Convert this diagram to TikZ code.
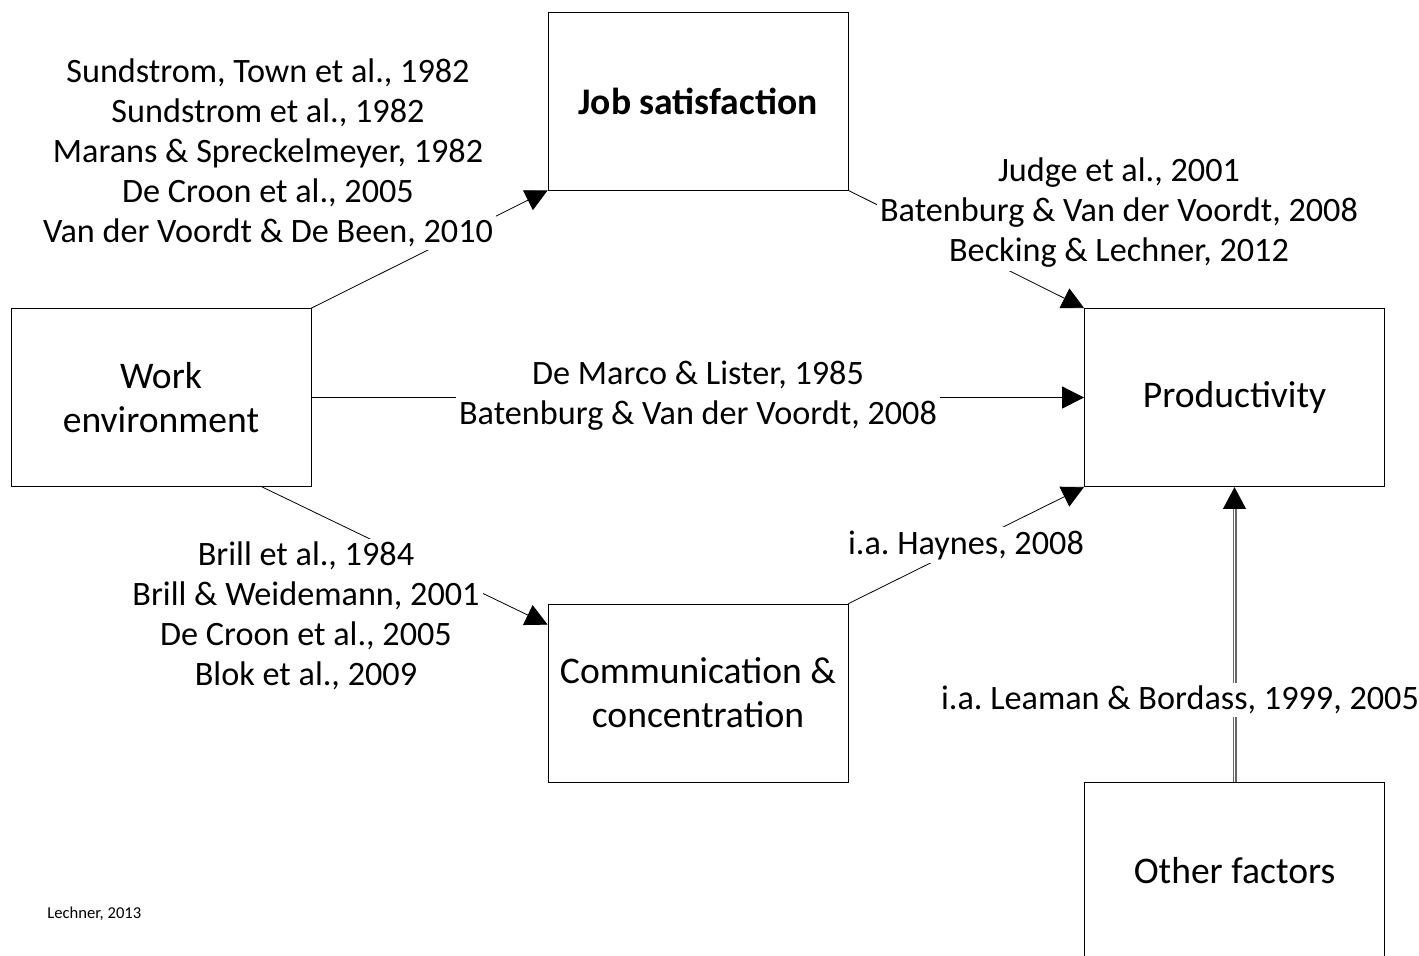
\documentclass[tikz,border=0pt]{standalone}
\usepackage{fontspec}
\setmainfont{Carlito}
\frenchspacing
\usetikzlibrary{arrows.meta,positioning}

\begin{document}
\begin{tikzpicture}[x=0.5pt,y=-0.5pt,>={Triangle[length=11pt,width=11pt]},
 box/.style={draw, minimum width=150pt, minimum height=89pt, align=center, font=\fontsize{18.8}{22}\selectfont},
 cite/.style={fill=white, inner sep=1.5pt, align=center, font=\fontsize{17.1}{20}\selectfont}]
 \useasboundingbox (0,0) rectangle (1419,955);

 \node[box] (job) at (698,101) {\bfseries Job satisfaction};
 \node[box] (work) at (161,397.5) {Work\\environment};
 \node[box] (prod) at (1234.5,397.5) {Productivity};
 \node[box] (comm) at (698,693) {Communication \&\\concentration};
 \node[box] (other) at (1234.5,871) {Other factors};

 \path[->]
 (work.north east) edge (job.south west)
 (job.south east) edge (prod.north west)
 (work) edge (prod)
 ([xshift=50.5pt]work.south) edge ([yshift=-10.5pt]comm.north west)
 (comm.north east) edge (prod.south west)
 ;
 \draw[-{Triangle[length=11pt,width=11pt,color=black]}, draw=black!60, line width=2pt] (other) -- (prod);
 \draw[white, line width=0.8pt, shorten >=11pt] (other) -- (prod);

 \node[cite] (envjob) at (268,153) {Sundstrom, Town et al., 1982\\Sundstrom et al., 1982\\Marans \& Spreckelmeyer, 1982\\De Croon et al., 2005\\Van der Voordt \& De Been, 2010};
 \node[cite] (jobprod) at (1119,213) {Judge et al., 2001\\Batenburg \& Van der Voordt, 2008\\Becking \& Lechner, 2012};
 \node[cite] (envprod) at (698,396) {De Marco \& Lister, 1985\\Batenburg \& Van der Voordt, 2008};
 \node[cite] (envcomm) at (306,616) {Brill et al., 1984\\Brill \& Weidemann, 2001\\De Croon et al., 2005\\Blok et al., 2009};
 \node[cite] (commprod) at (966,545) {i.a. Haynes, 2008};
 \node[cite] (otherprod) at (1180,700) {i.a. Leaman \& Bordass, 1999, 2005};
 \node[anchor=west, inner sep=0pt, font=\fontsize{8.3}{9}\selectfont] (src) at (47,914) {Lechner, 2013};
\end{tikzpicture}
\end{document}
